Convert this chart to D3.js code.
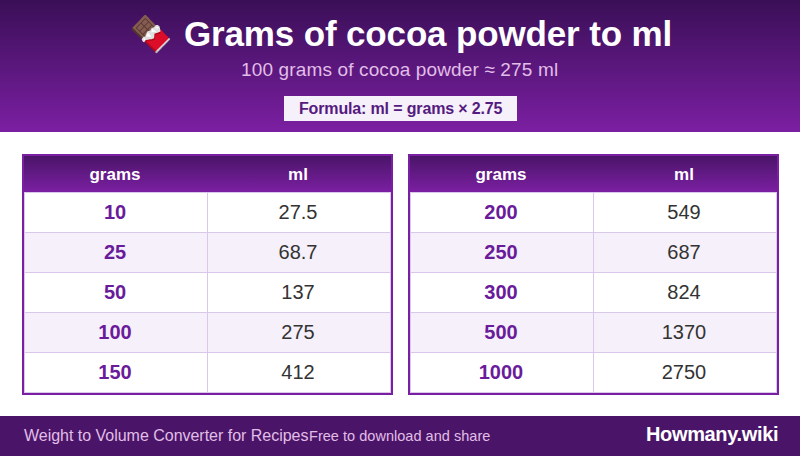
<!DOCTYPE html>
<html>
<head>
<meta charset="utf-8">
<script src="https://cdn.jsdelivr.net/npm/d3@7"></script>
<style>
  html, body { margin: 0; padding: 0; background: #fff; }
  svg { display: block; }
  text { font-family: "Liberation Sans", Arial, sans-serif; }
</style>
</head>
<body>
<div class="canvas"></div>
<script>
const titleText = 'Grams of cocoa powder to ml'
const subtitleText = '100 grams of cocoa powder ≈ 275 ml'
const formulaText = 'Formula: ml = grams × 2.75'
const footerLeft = 'Weight to Volume Converter for Recipes'
const footerMiddle = 'Free to download and share'
const footerBrand = 'Howmany.wiki'
const columns = ['grams', 'ml']

const gramsLeft = ['10', '25', '50', '100', '150']
const mlLeft = ['27.5', '68.7', '137', '275', '412']
const gramsRight = ['200', '250', '300', '500', '1000']
const mlRight = ['549', '687', '824', '1370', '2750']

const width = 800
const height = 456
const dark = '#4a1568'
const purple = '#7b1fa2'
const lineColor = '#d9c8ea'

const svg = d3.select('.canvas').append('svg').attr('width', width).attr('height', height)

const defs = svg.append('defs')
const grad = defs.append('linearGradient').attr('id', 'band').attr('x1', 0).attr('y1', 0).attr('x2', 0).attr('y2', 1)
grad.append('stop').attr('offset', '0%').attr('stop-color', '#3a0f57')
grad.append('stop').attr('offset', '100%').attr('stop-color', purple)
const headGrad = defs.append('linearGradient').attr('id', 'head').attr('x1', 0).attr('y1', 0).attr('x2', 0).attr('y2', 1)
headGrad.append('stop').attr('offset', '0%').attr('stop-color', dark)
headGrad.append('stop').attr('offset', '100%').attr('stop-color', purple)

// Header band
svg.append('rect').attr('width', width).attr('height', 132).attr('fill', 'url(#band)')

svg.append('text').attr('x', 129).attr('y', 46).attr('font-size', 35)
    .style('font-family', '"Noto Color Emoji", "Liberation Sans"').attr('fill', '#fff').text('🍫')
svg.append('text').attr('x', 184).attr('y', 46).attr('font-size', 35).attr('font-weight', 700)
    .attr('letter-spacing', -0.15).attr('fill', '#fff').text(titleText)
svg.append('text').attr('x', 241).attr('y', 76).attr('font-size', 19)
    .attr('letter-spacing', 0.14).attr('fill', '#e1bee7').text(subtitleText)

svg.append('rect').attr('x', 284).attr('y', 96).attr('width', 233).attr('height', 25).attr('fill', '#f5f0fa')
svg.append('text').attr('x', 299).attr('y', 113.5).attr('font-size', 16).attr('letter-spacing', -0.15)
    .attr('font-weight', 700).attr('fill', '#551a80').text(formulaText)

// Draws one of the two tables
const drawTable = (left, grams, ml) => {
    const tableWidth = 371
    const g = svg.append('g').attr('transform', `translate(${left}, 154)`)

    const x = d3.scaleOrdinal().domain(columns).range([2, 185])
    const colWidth = d3.scaleOrdinal().domain(columns).range([182, 182])
    const y = d3.scaleBand().domain(d3.range(grams.length)).range([38, 238])

    g.append('rect').attr('x', 2).attr('y', 2).attr('width', tableWidth - 4).attr('height', 36).attr('fill', 'url(#head)')

    g.selectAll('.head').data(columns).enter().append('text')
        .attr('x', d => x(d) + colWidth(d) / 2)
        .attr('y', 25.5)
        .attr('text-anchor', 'middle').attr('font-size', 17).attr('font-weight', 700)
        .attr('fill', '#fff')
        .text(d => d)

    const rows = g.selectAll('.row').data(grams.map((d, i) => ({ grams: d, ml: ml[i], i }))).enter().append('g')

    rows.append('rect').attr('x', 2).attr('y', d => y(d.i)).attr('width', tableWidth - 4).attr('height', y.bandwidth())
        .attr('fill', d => d.i % 2 ? '#f5f0fa' : '#fff')
    rows.append('line').attr('x1', 2).attr('x2', tableWidth - 2)
        .attr('y1', d => y(d.i) + 0.5).attr('y2', d => y(d.i) + 0.5).attr('stroke', lineColor)
    rows.append('text').attr('x', x('grams') + colWidth('grams') / 2)
        .attr('y', d => y(d.i) + 27).attr('text-anchor', 'middle').attr('font-size', 20).attr('font-weight', 700)
        .attr('fill', '#6a1b9a').text(d => d.grams)
    rows.append('text').attr('x', x('ml') + colWidth('ml') / 2)
        .attr('y', d => y(d.i) + 27).attr('text-anchor', 'middle').attr('font-size', 20)
        .attr('fill', '#333').text(d => d.ml)

    // Inner cell borders
    g.selectAll('.vline').data([2.5, 185.5, tableWidth - 2.5]).enter().append('line')
        .attr('x1', d => d).attr('x2', d => d).attr('y1', 38).attr('y2', 239).attr('stroke', lineColor)
    g.append('line').attr('x1', 2).attr('x2', tableWidth - 2).attr('y1', 238.5).attr('y2', 238.5).attr('stroke', lineColor)
    g.append('rect').attr('x', 1).attr('y', 1).attr('width', tableWidth - 2).attr('height', 239)
        .attr('fill', 'none').attr('stroke', purple).attr('stroke-width', 2)
}

drawTable(22, gramsLeft, mlLeft)
drawTable(408, gramsRight, mlRight)

// Footer
svg.append('rect').attr('y', 416).attr('width', width).attr('height', 40).attr('fill', dark)
svg.append('text').attr('x', 24).attr('y', 441).attr('font-size', 16).attr('letter-spacing', -0.02)
    .attr('fill', '#e1bee7').text(footerLeft)
svg.append('text').attr('x', 309).attr('y', 441).attr('font-size', 14.5).attr('letter-spacing', 0.03)
    .attr('fill', '#e1bee7').text(footerMiddle)
svg.append('text').attr('x', 646).attr('y', 441).attr('font-size', 20).attr('letter-spacing', -0.35).attr('font-weight', 700)
    .attr('fill', '#fff').text(footerBrand)
</script>
</body>
</html>
